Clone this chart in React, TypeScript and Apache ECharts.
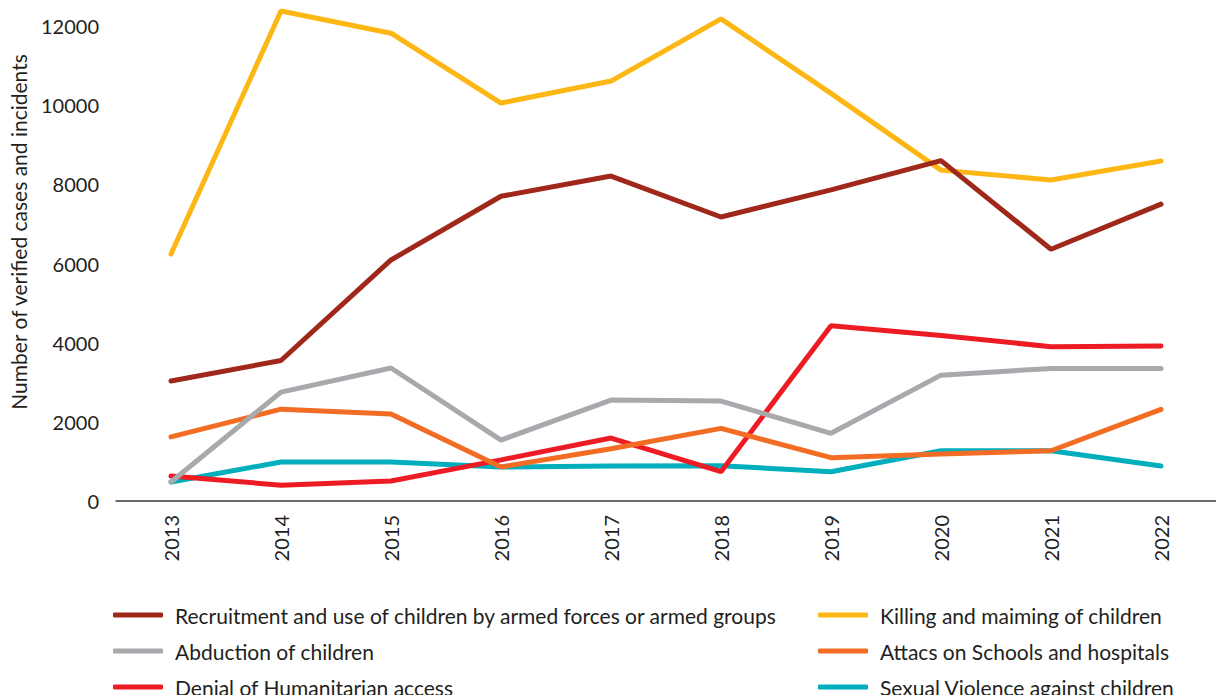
import React, { useEffect, useRef } from "react";
import * as echarts from "echarts";

const years = ["2013", "2014", "2015", "2016", "2017", "2018", "2019", "2020", "2021", "2022"];
const recruitment = [3030, 3550, 6090, 7700, 8210, 7175, 7860, 8600, 6360, 7500];
const killing = [6240, 12380, 11820, 10055, 10610, 12180, 10300, 8360, 8110, 8590];
const abduction = [480, 2750, 3360, 1540, 2550, 2525, 1710, 3180, 3350, 3350];
const attacks = [1620, 2320, 2200, 860, 1320, 1835, 1095, 1190, 1270, 2315];
const denial = [630, 400, 505, 1040, 1590, 740, 4430, 4180, 3900, 3915];
const sexual = [480, 985, 985, 860, 885, 890, 740, 1270, 1270, 885];

const names = [
  "Recruitment and use of children by armed forces or armed groups",
  "Killing and maiming of children",
  "Abduction of children",
  "Attacs on Schools and hospitals",
  "Denial of Humanitarian access",
  "Sexual Violence against children",
];
const colors = ["#a0281a", "#fdb714", "#a7a9ac", "#f26c24", "#ed1c24", "#00aebc"];
const seriesData = [recruitment, killing, abduction, attacks, denial, sexual];

export default function App() {
  const ref = useRef<HTMLDivElement>(null);
  useEffect(() => {
    if (!ref.current) return;
    const chart = echarts.init(ref.current, null, { renderer: "svg" });
    const font = "Lato, 'Noto Sans', sans-serif";
    const legendPos = [
      { left: 113, top: 603 },
      { left: 818, top: 603 },
      { left: 113, top: 639 },
      { left: 818, top: 639 },
      { left: 113, top: 675 },
      { left: 818, top: 675 },
    ];
    const legends = names.map((n, i) => ({
      ...legendPos[i],
      orient: "horizontal",
      itemWidth: 50,
      itemHeight: 5,
      icon: "roundRect",
      padding: 0,
      textStyle: { fontFamily: font, fontSize: 21, color: "#231f20", lineHeight: 24, padding: [0, 0, 0, 7] },
      selectedMode: false,
      data: [n],
    }));
    chart.setOption({
      animation: false,
      textStyle: { fontFamily: font },
      grid: { left: 116, top: 1, width: 1111, height: 500, containLabel: false },
      legend: legends,
      xAxis: {
        type: "category",
        data: years,
        boundaryGap: true,
        axisLine: { show: true, lineStyle: { color: "#3a3a3a", width: 1.5 } },
        axisTick: { show: false },
        axisLabel: { rotate: 90, fontSize: 20, color: "#231f20", fontFamily: font, margin: 14 },
      },
      yAxis: {
        type: "value",
        min: 0,
        max: 12633,
        interval: 2000,
        axisLine: { show: false },
        axisTick: { show: false },
        splitLine: { show: false },
        axisLabel: {
          fontSize: 20,
          color: "#231f20",
          fontFamily: font,
          margin: 17,
          showMaxLabel: false,
          formatter: (v: number) => String(v),
        },
      },
      graphic: [
        {
          type: "text",
          x: 8,
          y: 232,
          rotation: Math.PI / 2,
          style: {
            text: "Number of verified cases and incidents",
            fontSize: 21,
            fontFamily: font,
            fill: "#231f20",
            align: "center",
            verticalAlign: "top",
          },
        },
      ],
      series: seriesData.map((d, i) => ({
        name: names[i],
        type: "line",
        data: d,
        symbol: "none",
        color: colors[i],
        lineStyle: { width: 5, color: colors[i], cap: "round" },
        z: 10 - i,
      })),
    });
    return () => chart.dispose();
  }, []);
  return (
    <div
      ref={ref}
      style={{ position: "fixed", left: 0, top: 0, width: 1216, height: 695, background: "#fff" }}
    />
  );
}
